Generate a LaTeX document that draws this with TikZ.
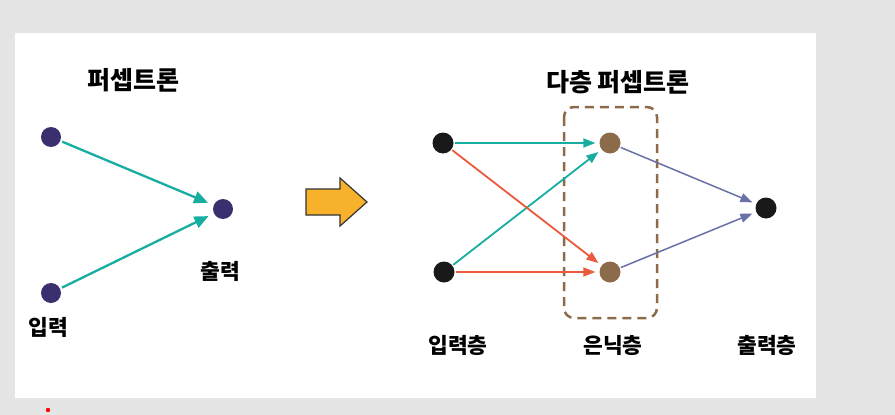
\documentclass[tikz,border=0pt]{standalone}
\usepackage{fontspec}
\setmainfont{Noto Sans CJK KR}
\usetikzlibrary{arrows.meta}
\definecolor{bggray}{HTML}{E5E5E5}
\definecolor{dotpurple}{HTML}{3A3070}
\definecolor{teal}{HTML}{17ADA0}
\definecolor{redor}{HTML}{EB5A3C}
\definecolor{bluep}{HTML}{6A70A8}
\definecolor{brownn}{HTML}{8C6B4B}
\definecolor{orangef}{HTML}{F7B12A}
\tikzset{
  pdot/.style={circle,fill=dotpurple,inner sep=0pt,minimum size=20pt},
  bdot/.style={circle,fill=black!90,inner sep=0pt,minimum size=21pt},
  hdot/.style={circle,fill=brownn,inner sep=0pt,minimum size=21pt},
  lbl/.style={font=\fontsize{21.5}{24}\selectfont\bfseries,inner sep=0pt},
  ttl/.style={font=\fontsize{25}{28}\selectfont\bfseries,inner sep=0pt},
  tealarr/.style={draw=teal,line width=2.3pt,-{Triangle[length=14pt,width=12pt]},shorten >=6pt,shorten <=2pt},
  sarr/.style={line width=1.8pt,-{Triangle[length=12pt,width=9pt]},shorten >=4pt,shorten <=1pt},
}
\begin{document}
\begin{tikzpicture}[x=1pt,y=-1pt]
\fill[bggray] (0,0) rectangle (895,415);
\useasboundingbox (0,0) rectangle (895,415);
\fill[white] (15,33) rectangle (816,398);
\fill[red] (48,410) circle (2.2);
% left perceptron
\node[ttl] (t1) at (133,80) {퍼셉트론};
\node[pdot] (i1) at (51,137) {};
\node[pdot] (i2) at (51,293) {};
\node[pdot] (o1) at (223,209) {};
\node[lbl] (li) at (48,327) {입력};
\node[lbl] (lo) at (220,271) {출력};
\draw[tealarr] (i1) -- (o1);
\draw[tealarr] (i2) -- (o1);
% big arrow
\draw[fill=orangef,draw=black!80,line width=1.2pt,line join=miter]
  (306,189) -- (340,189) -- (340,178) -- (367,202) -- (340,226) -- (340,215) -- (306,215) -- cycle;
% multilayer
\node[ttl] (t2) at (618,82) {다층 퍼셉트론};
\draw[brownn,line width=2.5pt,dash pattern=on 9pt off 6pt,rounded corners=10pt] (564,107) rectangle (657,318);
\node[bdot] (a1) at (443,143) {};
\node[bdot] (a2) at (444,272) {};
\node[hdot] (h1) at (610,143) {};
\node[hdot] (h2) at (610,272) {};
\node[bdot] (out) at (766,208) {};
\draw[sarr,draw=teal] (a1) -- (h1);
\draw[sarr,draw=teal] (a2) -- (h1);
\draw[sarr,draw=redor] (a1) -- (h2);
\draw[sarr,draw=redor] (a2) -- (h2);
\draw[sarr,draw=bluep,line width=1.5pt] (h1) -- (out);
\draw[sarr,draw=bluep,line width=1.5pt] (h2) -- (out);
\node[lbl] (l1) at (458,345) {입력층};
\node[lbl] (l2) at (613,345) {은닉층};
\node[lbl] (l3) at (767,345) {출력층};
\end{tikzpicture}
\end{document}
